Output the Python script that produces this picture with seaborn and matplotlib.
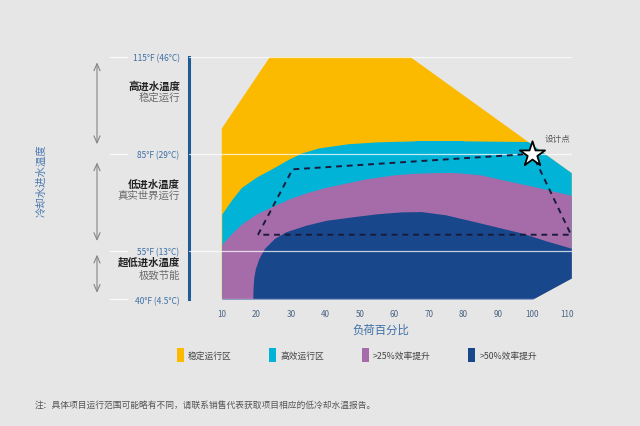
import numpy as np
import pandas as pd
import matplotlib
matplotlib.use("Agg")
import matplotlib.pyplot as plt
import seaborn as sns
from matplotlib.patches import Polygon, Patch

# ---------------- data ----------------
x_ticks = [10, 20, 30, 40, 50, 60, 70, 80, 90, 100, 110]
y_ticks = [40, 55, 85, 115]
y_tick_labels = ["40°F (4.5°C)", "55°F (13°C)", "85°F (29°C)", "115°F (46°C)"]

# outer envelope (stable operation zone)
env_load = [10, 10, 24, 64.5, 111.4, 111.4, 100.2]
env_temp = [40, 92.8, 115, 115, 79.0, 46.5, 40]

# upper boundary of high-efficiency zone
cyan_load = [10, 13, 15.7, 20, 25.4, 29.3, 33, 38, 46.5, 55, 66, 80, 98, 112]
cyan_top = [66.4, 71, 74.6, 77.8, 80.9, 83.3, 85.2, 86.8, 88.1, 88.7, 89, 89, 88.8, 88.6]

# upper boundary of >25% zone
purple_load = [10, 12.5, 15.7, 20, 25.4, 30, 35, 40, 46.6, 52, 60, 66, 72, 78, 85, 92.6, 100, 112]
purple_top = [57, 60, 63.3, 66.4, 69.1, 71.3, 73.1, 74.6, 76.1, 77.3, 78.5, 79, 79.2, 79.2, 78.5, 76.7, 75, 72]

# outline of >50% zone
blue_load = [19.15, 19.2, 19.4, 19.9, 20.9, 22.5, 25.4, 28.8, 34.6, 40.4, 48.1, 55, 62, 68,
             75, 83, 90, 97, 104, 112, 112]
blue_temp = [40, 43, 46.5, 49.4, 52.5, 55.6, 58.7, 60.8, 62.8, 64.3, 65.4, 66.3, 66.9, 67.0,
             66, 64, 62.2, 60.4, 58, 55.5, 40]

# dashed operating window
dash_load = [20.5, 30.5, 100, 111.2, 20.5]
dash_temp = [60, 80.2, 85, 60, 60]

design_load = [100]
design_temp = [85]

legend_labels = ["稳定运行区", "高效运行区", ">25%效率提升", ">50%效率提升"]

zone_titles = ["高进水温度", "低进水温度", "超低进水温度"]
zone_subtitles = ["稳定运行", "真实世界运行", "极致节能"]

# ---------------- style ----------------
BG = "#e6e6e6"
YELLOW = "#fbba00"
CYAN = "#00b3d7"
PURPLE = "#a56ca9"
NAVY = "#18478b"
AXBLUE = "#1d5b94"
TXTBLUE = "#3d6ea6"

sns.set_style("white", {"axes.facecolor": BG, "figure.facecolor": BG})
plt.rcParams["font.family"] = ["Noto Sans CJK SC", "DejaVu Sans"]

fig = plt.figure(figsize=(6.4, 4.27), dpi=100)
fig.patch.set_facecolor(BG)
ax = fig.add_axes([0.2958, 0.2963, 0.5975, 0.5686])
ax.set_facecolor(BG)
ax.set_xlim(0.6, 111.4)
ax.set_ylim(40, 115)

# zones
env = Polygon(list(zip(env_load, env_temp)), closed=True, fc=YELLOW, ec="none", zorder=1)
ax.add_patch(env)
cy = ax.fill_between(cyan_load, 40, cyan_top, color=CYAN, lw=0, zorder=1.1)
cy.set_clip_path(env)
pu = ax.fill_between(purple_load, 40, purple_top, color=PURPLE, lw=0, zorder=1.2)
pu.set_clip_path(env)
bl = ax.fill(blue_load, blue_temp, color=NAVY, lw=0, zorder=1.3)[0]
bl.set_clip_path(env)

# gridlines
for t in y_ticks:
    ax.axhline(t, color="white", lw=0.9, alpha=0.75, zorder=4)
    ax.plot([-0.2074, -0.163], [t, t], color="white", lw=0.9, alpha=0.9,
            transform=ax.get_yaxis_transform(), clip_on=False, zorder=4)

# dashed window
sns.lineplot(x=dash_load, y=dash_temp, sort=False, estimator=None, ax=ax,
             color="#1b1b3a", lw=1.4, zorder=5)
ax.lines[-1].set_linestyle((0, (3, 2.5)))

# design point
sns.scatterplot(x=design_load, y=design_temp, marker="*", s=360, color="white",
                edgecolor="black", linewidth=1.3, ax=ax, zorder=6)
ax.text(103.5, 89.6, "设计点", fontsize=6.2, color="#555555", va="center", ha="left", zorder=6)

# spines and ticks
for s in ["top", "right", "bottom"]:
    ax.spines[s].set_visible(False)
ax.spines["left"].set_color(AXBLUE)
ax.spines["left"].set_linewidth(2.2)
ax.set_xticks(x_ticks)
ax.set_xticklabels([str(v) for v in x_ticks])
ax.set_yticks(y_ticks)
ax.set_yticklabels(y_tick_labels)
ax.tick_params(axis="x", length=0, pad=6.5, labelsize=5.8, labelcolor="#4c6584")
ax.tick_params(axis="y", length=0, pad=7, labelsize=6.0, labelcolor=TXTBLUE)
ax.set_xlabel("负荷百分比", fontsize=8.2, color=TXTBLUE, labelpad=4)

# left annotations
ty = ax.get_yaxis_transform()
arrows = [(114.1, 87.1), (83.2, 57.2), (54.7, 41.2)]
for top, bot in arrows:
    ax.annotate("", xy=(-0.2414, top), xytext=(-0.2414, bot), xycoords=ty, textcoords=ty,
                arrowprops=dict(arrowstyle="<->,head_length=0.5,head_width=0.22",
                                color="#858585", lw=0.8), annotation_clip=False)
title_y = [106.0, 75.8, 51.8]
sub_y = [102.5, 72.5, 47.8]
for t, s, y1, y2 in zip(zone_titles, zone_subtitles, title_y, sub_y):
    ax.text(-0.0243, y1, t, transform=ty, ha="right", va="center", fontsize=7.5,
            fontweight="bold", color="#222222")
    ax.text(-0.0243, y2, s, transform=ty, ha="right", va="center", fontsize=7.5,
            color="#6a6a6a")
ax.text(-0.386, 76.9, "冷却水进水温度", transform=ty, rotation=90, ha="center",
        va="center", fontsize=7.5, color="#4a78b0")

# legend
handles = [Patch(facecolor=c, edgecolor="none") for c in [YELLOW, CYAN, PURPLE, NAVY]]
fig.legend(handles=handles, labels=legend_labels, loc="center left",
           bbox_to_anchor=(176.7 / 640, 1 - 356 / 427), ncol=4, frameon=False,
           fontsize=6.3, handlelength=0.78, handleheight=2.1, handletextpad=0.5,
           columnspacing=4.3, borderaxespad=0, borderpad=0, labelcolor="#444444")

# footnote
fig.text(35 / 640, 1 - 405 / 427,
         "注：具体项目运行范围可能略有不同，请联系销售代表获取项目相应的低冷却水温报告。",
         fontsize=6.3, color="#555555", va="center", ha="left")

fig.savefig("out.png", dpi=100, facecolor=BG)
